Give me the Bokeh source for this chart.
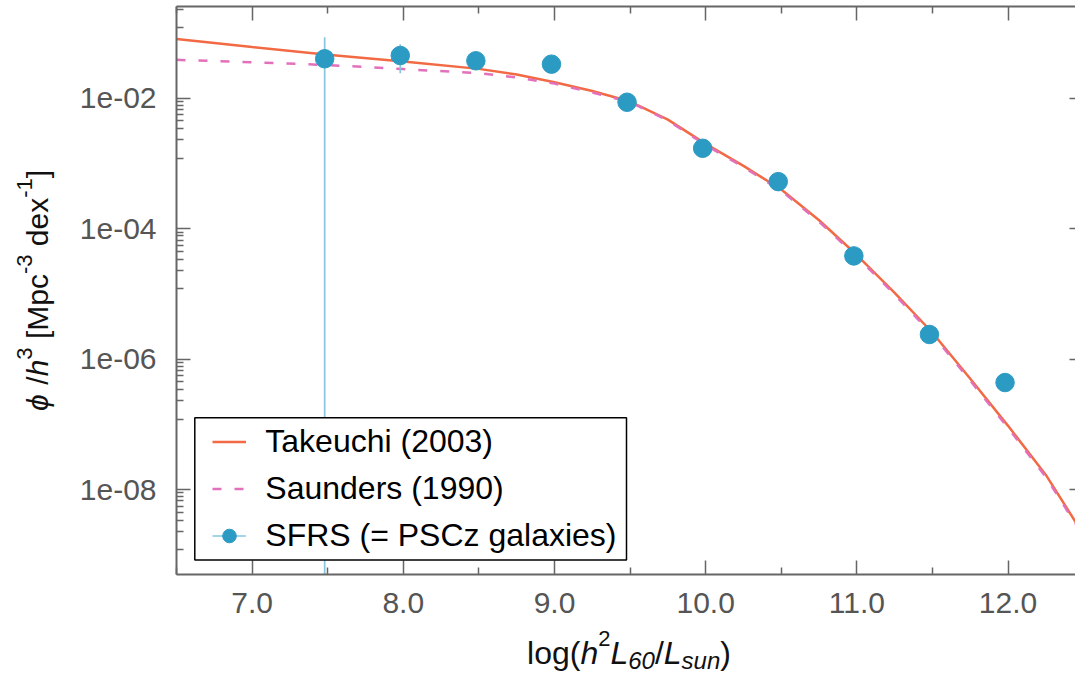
import math
from bokeh.plotting import figure
from bokeh.layouts import column, row
from bokeh.models import (Range1d, LinearAxis, LogAxis, FixedTicker, Label,
                          BoxAnnotation, Legend, LegendItem)
from bokeh.embed import file_html
from bokeh.resources import INLINE

# ---------------- data ----------------
sfrs_x = [7.48, 7.98, 8.48, 8.98, 9.48, 9.98, 10.48, 10.98, 11.48, 11.98]
sfrs_phi = [0.0403, 0.0452, 0.0375, 0.0333, 0.00869, 0.00171, 0.000527, 3.83e-5, 2.39e-6, 4.38e-7]
sfrs_err_lo = [1e-11, 0.0242, 0.0375, 0.0333, 0.00869, 0.00171, 0.000527, 3.83e-5, 2.39e-6, 4.38e-7]
sfrs_err_hi = [0.0863, 0.0675, 0.0375, 0.0333, 0.00869, 0.00171, 0.000527, 3.83e-5, 2.39e-6, 4.38e-7]

model_x = [6.5, 7.0, 7.5, 8.0, 8.5, 8.75, 9.0, 9.25, 9.5, 9.75, 10.0, 10.25, 10.5,
           10.75, 11.0, 11.25, 11.5, 11.75, 12.0, 12.25, 12.45]
takeuchi_phi = [0.0809, 0.0608, 0.0463, 0.0366, 0.0282, 0.0231, 0.0176, 0.0129, 0.00890,
                0.00470, 0.00200, 0.000920, 0.000400, 0.000135, 3.95e-5, 1.04e-5, 2.54e-6,
                5.00e-7, 9.5e-8, 1.68e-8, 3.1e-9]
saunders_phi = [0.0388, 0.0356, 0.0323, 0.0280, 0.0242, 0.0208, 0.0168, 0.01225, 0.00875,
                0.00455, 0.00192, 0.000880, 0.000381, 0.000128, 3.73e-5, 9.8e-6, 2.38e-6,
                4.68e-7, 8.85e-8, 1.56e-8, 2.9e-9]

x_ticks = [7, 8, 9, 10, 11, 12]
x_tick_labels = ["7.0", "8.0", "9.0", "10.0", "11.0", "12.0"]
x_minor = [6.5, 7.5, 8.5, 9.5, 10.5, 11.5]
y_ticks = [1e-8, 1e-6, 1e-4, 1e-2]
y_tick_labels = ["1e-08", "1e-06", "1e-04", "1e-02"]
y_decade_pairs = [(1e-10, 1e-8), (1e-8, 1e-6), (1e-6, 1e-4), (1e-4, 1e-2), (1e-2, 1.0)]

legend_labels = ["Takeuchi (2003)", "Saunders (1990)", "SFRS (= PSCz galaxies)"]

# ---------------- style ----------------
FONT = "Liberation Sans"
AX = "#666666"
TICKLAB = "#555555"
C_T = "#f26a44"
C_S = "#e370bb"
C_P = "#2b9bc3"
C_E = "#86c6df"

YW = 60          # width of the strip that holds the y title
MAIN_H = 626     # height of the main plot (the x title strip sits below)
FRAME_BOTTOM = 574

p = figure(width=1075 - YW, height=MAIN_H, x_range=Range1d(6.5, 12.446),
           y_range=Range1d(5e-10, 0.255), y_axis_type="log", title=None,
           output_backend="svg", toolbar_location=None,
           min_border_left=176 - YW, min_border_right=0, min_border_top=6,
           min_border_bottom=MAIN_H - FRAME_BOTTOM)
p.grid.visible = False
p.outline_line_color = None
p.background_fill_color = "white"
p.border_fill_color = "white"

y_minor = []
for lo, hi in y_decade_pairs:
    for k in range(1, 9):
        y_minor.append(lo + k * (hi - lo) / 9.0)

xt = FixedTicker(ticks=x_ticks, minor_ticks=x_minor)
yt = FixedTicker(ticks=y_ticks, minor_ticks=y_minor)


def style_axis(ax, labels=True):
    ax.axis_line_color = AX
    ax.axis_line_width = 2
    ax.major_tick_line_color = AX
    ax.minor_tick_line_color = AX
    ax.major_tick_line_width = 1.5
    ax.minor_tick_line_width = 1.5
    ax.major_tick_in = 14
    ax.major_tick_out = 0
    ax.minor_tick_in = 7
    ax.minor_tick_out = 0
    ax.major_label_text_font = FONT
    if labels:
        ax.major_label_text_font_size = "30px"
        ax.major_label_text_color = TICKLAB
    else:
        ax.major_label_text_font_size = "1px"
        ax.major_label_text_color = None
        ax.major_label_standoff = 0


bx = p.xaxis[0]
bx.ticker = xt
bx.major_label_overrides = dict(zip(x_ticks, x_tick_labels))
style_axis(bx)
bx.major_label_standoff = 18

ly = p.yaxis[0]
ly.ticker = yt
ly.major_label_overrides = dict(zip(y_ticks, y_tick_labels))
style_axis(ly)
ly.major_label_standoff = 20

tx = LinearAxis(ticker=xt)
style_axis(tx, labels=False)
p.add_layout(tx, "above")

ry = LogAxis(ticker=yt)
style_axis(ry, labels=False)
ry.major_tick_in = 6
ry.minor_tick_in = 0
ry.axis_line_color = None
p.add_layout(ry, "right")

# ---------------- glyphs ----------------
r_t = p.line(model_x, takeuchi_phi, line_color=C_T, line_width=2.5)
r_s = p.line(model_x, saunders_phi, line_color=C_S, line_width=2.5, line_dash="9 13")
r_e = p.segment(x0=sfrs_x, y0=sfrs_err_lo, x1=sfrs_x, y1=sfrs_err_hi,
                line_color=C_E, line_width=1.7)
r_p = p.scatter(sfrs_x, sfrs_phi, size=18.5, fill_color=C_P, line_color=C_P)

# ---------------- legend ----------------
box = BoxAnnotation(left=18.3, right=450, bottom=14.4, top=156.7,
                    left_units="screen", right_units="screen",
                    bottom_units="screen", top_units="screen",
                    fill_color="white", fill_alpha=1.0,
                    line_color="black", line_width=1.5, line_alpha=1.0)
p.add_layout(box)

legend = Legend(items=[LegendItem(label=legend_labels[0], renderers=[r_t]),
                       LegendItem(label=legend_labels[1], renderers=[r_s]),
                       LegendItem(label=legend_labels[2], renderers=[r_e, r_p])],
                location=(36.3, 20.3), orientation="vertical",
                padding=6, spacing=10, margin=0,
                glyph_width=34, glyph_height=37, label_height=37,
                label_standoff=19, label_text_font=FONT,
                label_text_font_size="32px", label_text_color="black",
                border_line_color=None, background_fill_alpha=0.0)
p.add_layout(legend, "center")


# ---------------- axis titles (composed rich text in side strips) ----------------
def strip(w, h):
    f = figure(width=w, height=h, x_range=Range1d(0, 1), y_range=Range1d(0, 1),
               title=None, output_backend="svg", toolbar_location=None,
               x_axis_location=None, y_axis_location=None,
               min_border_left=0, min_border_right=0, min_border_top=0,
               min_border_bottom=0)
    f.grid.visible = False
    f.outline_line_color = None
    f.background_fill_color = "white"
    f.border_fill_color = "white"
    return f


yfig = strip(YW, MAIN_H)
xfig = strip(1075, 677 - MAIN_H)

W = {' ': .278, '(': .333, ')': .333, '/': .278, '[': .278, ']': .278, '-': .333,
     'a': .556, 'c': .5, 'd': .556, 'e': .556, 'g': .556, 'h': .556, 'l': .222,
     'n': .556, 'o': .556, 'p': .556, 's': .5, 'u': .556, 'x': .5, 'L': .556,
     'M': .833, '\u03d5': .6}
for dgt in "0123456789":
    W[dgt] = .556

BASE_FIX = 0.34   # Bokeh's alphabetic anchor sits this fraction of the size above the glyph baseline


def pieces_width(pieces):
    return sum(sum(W[c] for c in t) * s for t, _, s, _ in pieces)


def place(fig, pieces, center_along, base_cross, rotated):
    pos = center_along - pieces_width(pieces) / 2.0
    for text, style, size, shift in pieces:
        lead = len(text) - len(text.lstrip(" "))
        shown = text.lstrip(" ")
        pos_txt = pos + lead * W[' '] * size
        kw = dict(text=shown, text_font=FONT, text_font_size=f"{size}px",
                  text_font_style=style, text_color="#111111",
                  text_align="left", text_baseline="alphabetic",
                  x_units="screen", y_units="screen")
        fix = BASE_FIX * size
        if rotated:
            lab = Label(x=base_cross - shift - fix, y=pos_txt, angle=math.pi / 2, **kw)
        else:
            lab = Label(x=pos_txt, y=base_cross + shift + fix, **kw)
        fig.add_layout(lab)
        pos += sum(W[c] for c in text) * size


xlabel = [("log(", "normal", 32, 0), ("h", "italic", 32, 0), ("2", "normal", 22, 18),
          ("L", "italic", 32, 0), ("60", "italic", 24, -5), ("/", "normal", 32, 0),
          ("L", "italic", 32, 0), ("sun", "italic", 24, -5), (")", "normal", 32, 0)]
ylabel = [("\u03d5", "italic", 30, 0), (" /", "normal", 30, 0), ("h", "italic", 30, 0),
          ("3", "normal", 22, 16), (" [Mpc", "normal", 30, 0), ("-3", "normal", 22, 16),
          (" dex", "normal", 30, 0), ("-1", "normal", 22, 16), ("]", "normal", 30, 0)]

# x title: centred under the frame, baseline at page y = 663
place(xfig, xlabel, 628.5, 677 - 663.3, rotated=False)
# y title: the strip's frame is aligned with the main frame (bottom at page y 574);
# centred on page y 290, baseline at page x = 47
place(yfig, ylabel, FRAME_BOTTOM - 290, 47, rotated=True)

layout = column(row(yfig, p), xfig)
open("out.html", "w").write(file_html(layout, INLINE))
